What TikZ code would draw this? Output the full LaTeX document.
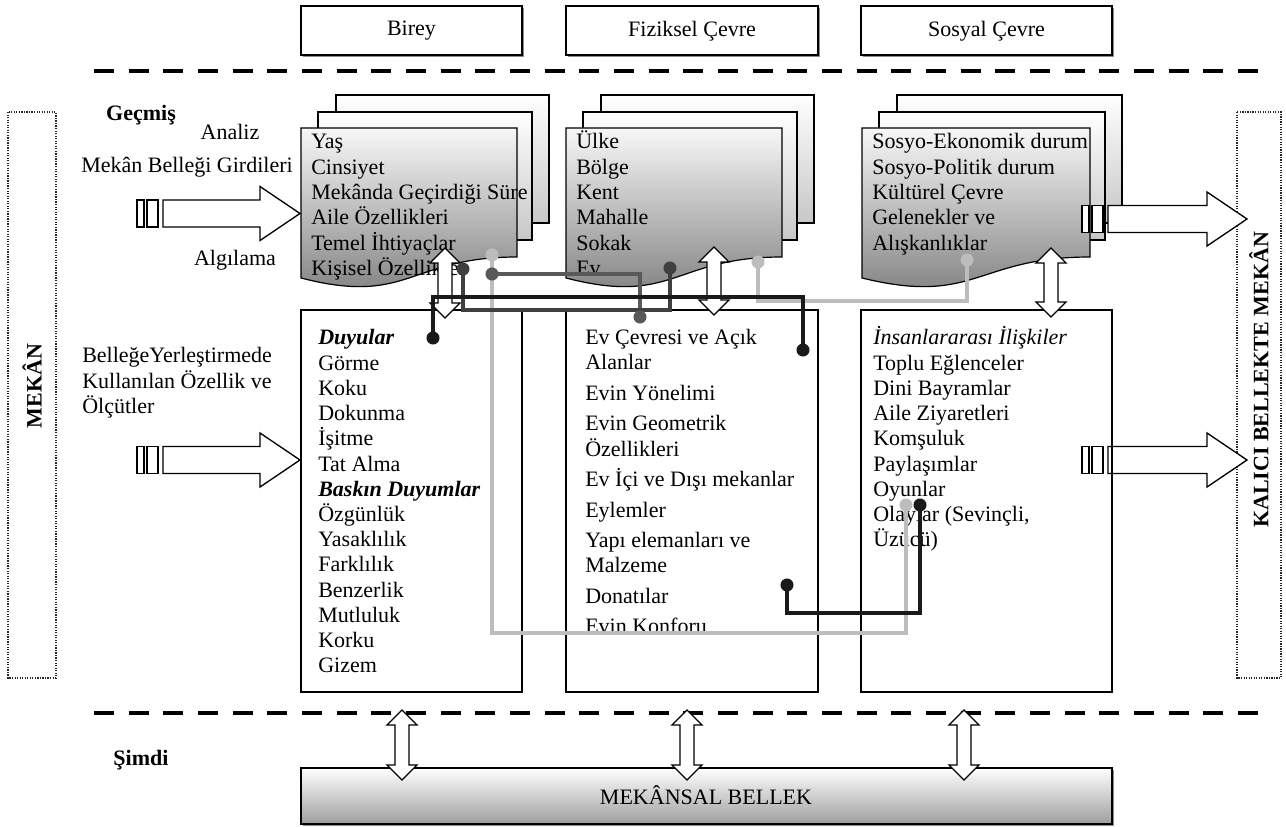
\documentclass[tikz,border=0pt]{standalone}
\usepackage{fontspec}
\setmainfont{Liberation Serif}
\usetikzlibrary{calc}
\definecolor{wireblack}{HTML}{1A1A1A}
\definecolor{wiredark}{HTML}{3F3F3F}
\definecolor{wiremid}{HTML}{595959}
\definecolor{wirelight}{HTML}{BDBDBD}
\tikzset{
  blockarrow/.style={draw=black, fill=white, line width=1pt, line join=miter},
  docfront/.style={draw=black, line width=0.9pt, top color=black!3, bottom color=black!52},
  docback/.style={draw=black, line width=0.9pt, top color=white, bottom color=black!22},
  wire/.style={line width=2.5pt},
  item/.style={anchor=base west, inner sep=0pt},
  plainbox/.style={draw=black, line width=0.9pt},
  sidebox/.style={draw=black!85, densely dotted, line width=0.9pt},
  zoneline/.style={line width=3.4pt, dash pattern=on 15pt off 11pt},
}
% striped block arrow: left x, centre y, tip x
\def\stripedarrow(#1,#2,#3){%
  \draw[blockarrow] (#1,#2-13.5) rectangle (#1+7,#2+13.5);
  \draw[blockarrow] (#1+10,#2-13.5) rectangle (#1+21,#2+13.5);
  \draw[blockarrow] (#1+26,#2-13.5) -- (#3-40,#2-13.5) -- (#3-40,#2-27) -- (#3,#2)
    -- (#3-40,#2+27) -- (#3-40,#2+13.5) -- (#1+26,#2+13.5) -- cycle;}
% up-down block arrow: centre x, top y, bottom y
\def\vdoublearrow(#1,#2,#3){%
  \draw[blockarrow] (#1,#2) -- (#1+15,#2+15) -- (#1+7,#2+15) -- (#1+7,#3-15) -- (#1+15,#3-15)
    -- (#1,#3) -- (#1-15,#3-15) -- (#1-7,#3-15) -- (#1-7,#2+15) -- (#1-15,#2+15) -- cycle;}
% stack of three documents: left x, right x of the front sheet
\def\docstack(#1,#2){%
  \draw[docback] (#1+35,95) rectangle (#2+32,223);
  \draw[docback] (#1+17,112) rectangle (#2+15,240);
  \draw[docfront] (#1,128) -- (#2,128) -- (#2,257) .. controls ({(#1+#2)/2},257) and ({(#1+#2)/2},306) .. (#1,278) -- cycle;}
\begin{document}
\begin{tikzpicture}[x=0.75pt, y=-0.75pt, font=\fontsize{16.5}{19}\selectfont]
\useasboundingbox (0,0) rectangle (1286,827);

%%% top headings
\foreach \l/\r/\t [count=\i] in {301/522/Birey, 566/818/Fiziksel Çevre, 861/1112/Sosyal Çevre} {
  \fill[black!45] (\l+2,8) rectangle (\r+2,57);
  \draw[plainbox, fill=white] (\l,6) rectangle (\r,55);
  \node (head\i) at ({(\l+\r)/2},31) {\t};
}
\draw[zoneline] (94,71) -- (1259,71);
\draw[zoneline] (94,713) -- (1259,713);

%%% side frames
\draw[sidebox] (8,112) rectangle (56,678);
\node[rotate=90, font=\fontsize{16.5}{19}\selectfont\bfseries] (mekan) at (32,386) {MEKÂN};
\draw[sidebox] (1237,112) rectangle (1281,678);
\node[rotate=90, font=\fontsize{16.5}{19}\selectfont\bfseries] (kalici) at (1259,380) {KALICI BELLEKTE MEKÂN};

%%% left labels
\node[font=\fontsize{16.5}{19}\selectfont\bfseries] (gecmis) at (141,115) {Geçmiş};
\node (analiz) at (230,132) {Analiz};
\node (girdi) at (187,167) {Mekân Belleği Girdileri};
\node (algi) at (235,260) {Algılama};
\node[item] (yer1) at (82,363) {BelleğeYerleştirmede};
\node[item] (yer2) at (82,388) {Kullanılan Özellik ve};
\node[item] (yer3) at (82,413) {Ölçütler};

%%% document stacks
\docstack(301,517)
\docstack(566,782)
\docstack(862,1090)
\foreach \t [count=\i from 0] in {Yaş, Cinsiyet, Mekânda Geçirdiği Süre, Aile Özellikleri, Temel İhtiyaçlar, Kişisel Özellikler}
  \node[item] (bd\i) at (311,149+25.3*\i) {\t};
\foreach \t [count=\i from 0] in {Ülke, Bölge, Kent, Mahalle, Sokak, Ev}
  \node[item] (fd\i) at (576,149+25.3*\i) {\t};
\foreach \t [count=\i from 0] in {Sosyo-Ekonomik durum, Sosyo-Politik durum, Kültürel Çevre, Gelenekler ve, Alışkanlıklar}
  \node[item] (sd\i) at (872,149+25.3*\i) {\t};

%%% block arrows
\stripedarrow(137,213.5,300)
\stripedarrow(137,460,300)
\stripedarrow(1082,219,1247)
\stripedarrow(1082,460,1247)

%%% lower boxes
\draw[plainbox] (301,310) rectangle (522,692);
\draw[plainbox] (566,310) rectangle (818,692);
\draw[plainbox] (861,310) rectangle (1112,692);
\foreach \t [count=\i from 0] in {\textbf{\textit{Duyular}}, Görme, Koku, Dokunma, İşitme, Tat Alma,
    \textbf{\textit{Baskın Duyumlar}}, Özgünlük, Yasaklılık, Farklılık, Benzerlik, Mutluluk, Korku, Gizem}
  \node[item] (bl\i) at (318,345+25.2*\i) {\t};
\foreach \y/\t [count=\i] in {338/Ev Çevresi ve Açık, 363/Alanlar, 393.5/Evin Yönelimi, 424/Evin Geometrik,
    449/Özellikleri, 479.5/Ev İçi ve Dışı mekanlar, 510/Eylemler, 540.5/Yapı elemanları ve, 565.5/Malzeme,
    596/Donatılar, 626.5/Evin Konforu}
  \node[item] (fl\i) at (585,\y+7) {\t};
\foreach \t [count=\i from 0] in {\textit{İnsanlararası İlişkiler}, Toplu Eğlenceler, Dini Bayramlar,
    Aile Ziyaretleri, Komşuluk, Paylaşımlar, Oyunlar, {Olaylar (Sevinçli,}, Üzücü)}
  \node[item] (sl\i) at (873,345+25.2*\i) {\t};

%%% links between levels
\vdoublearrow(445,248,318)
\vdoublearrow(714,247,315)
\vdoublearrow(1051,248,317)

%%% connectors
\coordinate (bDuy) at (433,338);
\coordinate (fEvc) at (803,350);
\coordinate (bKis) at (463,269);
\coordinate (fEv) at (670,268);
\coordinate (bTem) at (492,274);
\coordinate (fAlan) at (640,317);
\coordinate (bAge) at (492,255);
\coordinate (sOlA) at (906,505);
\coordinate (fSok) at (758,262);
\coordinate (sAli) at (967,260);
\coordinate (fDon) at (787,585);
\coordinate (sOlB) at (920,505);

\draw[wire, wirelight] (bAge) -- ++(0,378) -| (sOlA);
\draw[wire, wirelight] (fSok) -- ++(0,39) -| (sAli);
\draw[wire, wiremid] (bTem) -| (fAlan);
\draw[wire, wiredark] (bKis) -- ++(0,41) -| (fEv);
\draw[wire, wireblack] (bDuy) -- ++(0,-41) -| (fEvc);
\draw[wire, wireblack] (fDon) -- ++(0,28) -| (sOlB);
\fill[wirelight] (bAge) circle (4.9pt) (sOlA) circle (4.9pt) (fSok) circle (4.9pt) (sAli) circle (4.9pt);
\fill[wiremid] (bTem) circle (4.9pt) (fAlan) circle (4.9pt);
\fill[wiredark] (bKis) circle (4.9pt) (fEv) circle (4.9pt);
\fill[wireblack] (bDuy) circle (4.9pt) (fEvc) circle (4.9pt) (fDon) circle (4.9pt) (sOlB) circle (4.9pt);

%%% present
\node[font=\fontsize{16.5}{19}\selectfont\bfseries] (simdi) at (141,760) {Şimdi};
\fill[black!45] (303,770) rectangle (1114,826);
\draw[plainbox, top color=white, bottom color=black!38] (301,768) rectangle (1112,824);
\node (bellek) at (706,795) {MEKÂNSAL BELLEK};
\vdoublearrow(402,710,780)
\vdoublearrow(687,710,780)
\vdoublearrow(964,710,780)
\end{tikzpicture}
\end{document}
